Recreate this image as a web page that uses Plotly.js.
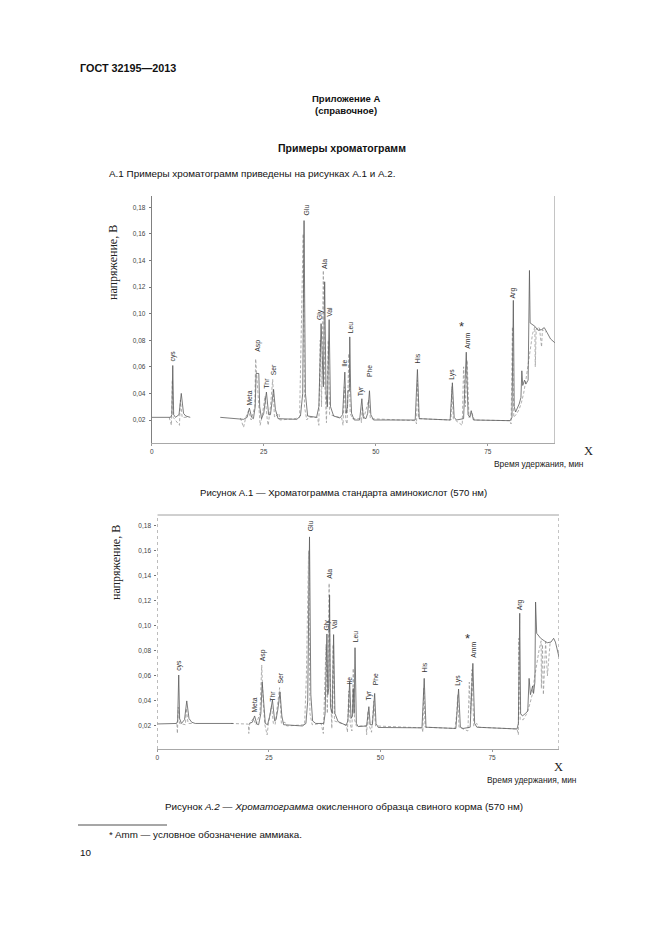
<!DOCTYPE html>
<html><head><meta charset="utf-8">
<script src="https://cdn.plot.ly/plotly-3.0.1.min.js"></script>
<style>html,body{margin:0;padding:0;background:#fff}#g{width:661px;height:935px}</style>
</head><body><div id="g"></div>
<script>
// ---------- DATA ----------
// Figure A.1 — main (solid) trace
const t1 = [0,4.2,4.5,4.7,4.9,5.3,6.1,6.6,7.1,7.6,8.6,null,15.3,20.5,21.3,21.8,22.3,22.7,23.1,23.3,23.9,24.1,24.5,25.0,25.6,26.1,26.5,26.8,27.2,27.6,28.2,32.4,33.2,33.7,34.0,34.3,34.8,36.8,37.3,37.8,38.1,38.3,38.6,38.9,39.2,39.6,39.9,40.6,42.0,42.6,43.1,43.4,43.7,43.8,44.1,44.2,44.4,44.6,45.2,46.4,46.9,47.2,47.8,48.2,48.6,48.9,49.5,58.8,59.3,59.7,66.6,67.1,67.5,68.0,69.6,70.2,70.6,71.0,71.3,71.8,80.0,80.4,80.7,80.9,81.2,82.0,82.4,82.6,82.8,83.2,83.5,84.0,84.3,84.45,85.5,86.2,87.0,87.6,88.2,89.0,90.0];
const v1 = [0.022,0.022,0.024,0.061,0.024,0.022,0.024,0.040,0.025,0.023,0.022,null,0.022,0.0205,0.022,0.029,0.022,0.021,0.030,0.055,0.055,0.030,0.021,0.025,0.041,0.024,0.024,0.032,0.043,0.028,0.021,0.0205,0.023,0.040,0.170,0.040,0.023,0.022,0.030,0.0925,0.050,0.045,0.124,0.040,0.030,0.0955,0.030,0.023,0.0215,0.024,0.056,0.025,0.030,0.042,0.042,0.0825,0.042,0.025,0.020,0.020,0.036,0.022,0.021,0.025,0.042,0.024,0.020,0.020,0.058,0.021,0.020,0.048,0.022,0.020,0.021,0.071,0.024,0.022,0.027,0.020,0.0195,0.022,0.110,0.030,0.026,0.032,0.037,0.057,0.046,0.050,0.047,0.050,0.1325,0.093,0.0905,0.0875,0.088,0.0895,0.086,0.081,0.078];
// Figure A.1 — second (dashed) trace
const t1b = [3.9,4.4,4.6,4.8,6.2,6.4,6.8,8.2,null,19.8,20.5,21.0,21.6,22.2,23.0,23.2,23.6,24.2,24.6,25.3,25.8,26.0,26.5,27.0,27.4,28.4,28.6,32.0,33.0,33.5,33.8,34.1,34.6,35.0,37.0,37.3,37.6,37.9,38.3,38.6,39.0,39.4,39.7,42.4,42.7,43.0,43.3,43.6,44.0,44.3,44.8,46.7,46.8,47.0,47.3,48.4,48.8,58.9,59.1,59.3,59.6,66.8,67.0,67.3,69.3,69.6,70.0,70.4,70.8,71.5,72.0,79.9,80.2,80.5,80.8,81.5,82.0,82.5,83.0,83.5,84.0,84.5,85.0,85.5,85.6,85.8,86.5,87.0,87.2,88.0];
const v1b = [0.022,0.016,0.050,0.022,0.016,0.035,0.022,0.022,null,0.0215,0.0145,0.022,0.027,0.020,0.030,0.066,0.045,0.016,0.022,0.038,0.020,0.016,0.030,0.0505,0.022,0.025,0.020,0.021,0.022,0.100,0.160,0.030,0.020,0.022,0.022,0.016,0.080,0.030,0.1325,0.050,0.018,0.080,0.024,0.0215,0.016,0.045,0.020,0.017,0.070,0.025,0.021,0.021,0.018,0.030,0.021,0.035,0.021,0.0195,0.017,0.050,0.021,0.020,0.045,0.021,0.016,0.060,0.030,0.065,0.022,0.025,0.020,0.0195,0.017,0.090,0.022,0.025,0.028,0.033,0.040,0.050,0.062,0.075,0.085,0.090,0.060,0.088,0.090,0.075,0.088,0.086];

// Figure A.2 — main (solid) trace
const t2 = [0,4.3,4.55,4.8,5.0,5.4,6.1,6.6,7.1,7.7,8.5,17.0,null,20.6,21.3,21.8,22.3,22.7,23.2,23.5,23.8,24.2,24.7,25.2,25.8,26.3,26.6,27.0,27.5,27.9,28.3,32.5,33.3,33.7,34.1,34.4,34.8,35.5,37.3,37.6,38.0,38.2,38.4,38.6,38.8,39.2,39.5,39.8,40.5,42.3,42.7,43.1,43.4,43.7,43.9,44.1,44.3,44.6,45.0,46.9,47.4,47.7,48.2,48.7,49.0,49.5,59.3,59.8,60.2,66.9,67.5,67.9,68.5,70.1,70.7,71.1,71.6,80.6,80.9,81.2,81.4,81.8,82.5,83.0,83.3,83.6,84.1,84.3,84.6,84.75,85.0,85.9,86.7,87.4,88.2,88.8,89.2,90.0];
const v2 = [0.0216,0.022,0.024,0.0607,0.026,0.022,0.025,0.040,0.026,0.023,0.022,0.022,null,0.022,0.023,0.028,0.0215,0.021,0.030,0.055,0.040,0.022,0.021,0.028,0.0407,0.024,0.025,0.033,0.047,0.028,0.021,0.020,0.022,0.040,0.171,0.045,0.024,0.022,0.022,0.030,0.0935,0.045,0.050,0.1245,0.035,0.030,0.093,0.030,0.0235,0.0205,0.024,0.0554,0.026,0.028,0.050,0.030,0.0825,0.022,0.0195,0.020,0.0354,0.021,0.021,0.046,0.022,0.0188,0.0185,0.058,0.019,0.018,0.0495,0.019,0.018,0.019,0.070,0.022,0.019,0.0176,0.022,0.1100,0.030,0.028,0.030,0.032,0.058,0.045,0.052,0.046,0.055,0.119,0.094,0.090,0.088,0.0865,0.087,0.090,0.087,0.075];
// Figure A.2 — second (dashed) trace
const t2b = [4.4,4.5,4.7,5.0,6.3,6.5,6.9,8.0,null,16.5,20.4,20.5,20.7,21.5,22.1,23.0,23.4,23.7,24.1,24.6,24.9,25.6,26.0,26.4,27.0,27.4,27.8,28.6,29.0,33.0,33.4,33.9,34.2,34.7,36.7,37.2,37.5,37.8,38.1,38.5,38.7,39.1,39.4,39.7,42.4,42.6,42.9,43.2,43.6,43.9,44.2,44.6,46.8,46.9,47.2,47.5,48.0,48.5,48.9,59.3,59.5,59.7,60.0,66.7,67.1,67.3,67.6,69.6,69.9,70.2,70.5,70.9,71.6,72.0,80.6,80.9,81.0,81.3,82.0,82.8,83.5,84.0,84.5,85.0,85.5,86.0,86.05,86.3,86.5,87.0,87.4,88.0];
const v2b = [0.0215,0.014,0.035,0.022,0.021,0.034,0.022,0.022,null,0.022,0.0215,0.014,0.022,0.026,0.021,0.030,0.0687,0.040,0.021,0.0128,0.022,0.036,0.022,0.021,0.040,0.0506,0.022,0.023,0.020,0.021,0.060,0.160,0.030,0.021,0.022,0.014,0.050,0.085,0.030,0.134,0.060,0.018,0.085,0.024,0.0205,0.015,0.048,0.022,0.016,0.066,0.025,0.020,0.020,0.013,0.032,0.020,0.015,0.040,0.020,0.0185,0.015,0.050,0.019,0.018,0.030,0.045,0.019,0.016,0.055,0.030,0.065,0.020,0.022,0.019,0.0176,0.013,0.090,0.025,0.025,0.030,0.038,0.045,0.058,0.070,0.080,0.088,0.050,0.085,0.045,0.087,0.060,0.086];

// Peak labels
const peakNames = ['cys','Meta','Asp','Thr','Ser','Glu','Gly','Ala','Val','Ile','Leu','Tyr','Phe','His','Lys','Amm','Arg'];
const peakT1 = [4.7,21.8,23.7,25.7,27.2,34.5,37.7,38.7,39.6,43.1,44.25,46.9,48.6,59.3,67.1,70.4,80.6];
const peakV1 = [0.0635,0.030,0.0705,0.043,0.053,0.173,0.0945,0.133,0.097,0.0595,0.0845,0.037,0.052,0.062,0.0495,0.073,0.111];
const peakT2 = [4.8,21.8,23.65,25.75,27.5,34.2,38.1,38.6,39.6,43.1,44.3,47.4,48.9,59.8,67.5,70.9,81.2];
const peakV2 = [0.0634,0.030,0.0708,0.0384,0.0527,0.175,0.0953,0.1365,0.0966,0.0527,0.086,0.0394,0.0514,0.062,0.0514,0.0735,0.1118];
// Asterisk on Amm
const starT = [69.1, 69.4];
const starV = [0.090, 0.090];

const yTicks = [0.02,0.04,0.06,0.08,0.10,0.12,0.14,0.16,0.18];
const xTicks = [0,25,50,75];

// ---------- LAYOUT ----------
const W = 661, H = 935;
const px = x => x / W, py = y => 1 - y / H;

const solid = {color:'#5c5c5c', width:0.8};
const dashed = {color:'#9a9a9a', width:0.8, dash:'3px,2px'};

const traces = [
  {x:t1b, y:v1b, xaxis:'x', yaxis:'y', mode:'lines', line:dashed, connectgaps:false, hoverinfo:'skip'},
  {x:t1, y:v1, xaxis:'x', yaxis:'y', mode:'lines', line:solid, connectgaps:false, hoverinfo:'skip'},
  {x:t2b, y:v2b, xaxis:'x2', yaxis:'y2', mode:'lines', line:dashed, connectgaps:false, hoverinfo:'skip'},
  {x:t2, y:v2, xaxis:'x2', yaxis:'y2', mode:'lines', line:solid, connectgaps:false, hoverinfo:'skip'}
];

const tickFont = {family:'Liberation Sans, Arial, sans-serif', size:6.5, color:'#444'};
function xax(dom, anchor){
  return {domain:dom, anchor:anchor, range:[0,90], tickvals:xTicks, ticktext:xTicks.map(String),
    showgrid:false, zeroline:false, showline:true, linecolor:'#a8a8a8', linewidth:1,
    ticks:'outside', ticklen:2, tickcolor:'#999', tickfont:tickFont, ticklabelstandoff:0, fixedrange:true};
}
function yax(dom, anchor, rng, line){
  return {domain:dom, anchor:anchor, range:rng, tickvals:yTicks, tickformat:'.2f',
    showgrid:false, zeroline:false, showline:line, linecolor:'#808080', linewidth:1,
    ticks:'outside', ticklen:2, tickcolor:'#777', tickfont:tickFont, ticklabelstandoff:2, fixedrange:true};
}

const sans = 'Liberation Sans, Arial, sans-serif';
const serif = 'Liberation Serif, Times New Roman, serif';
function txt(x, y, text, size, opts){
  return Object.assign({xref:'paper', yref:'paper', x:px(x), y:py(y), text:text, showarrow:false,
    xanchor:'left', yanchor:'middle', font:{family:sans, size:size, color:'#111'}}, opts||{});
}

const ann = [
  txt(78, 68, '<b>ГОСТ 32195—2013</b>', 10.8),
  txt(346, 98, '<b>Приложение А</b>', 9.5, {xanchor:'center'}),
  txt(346, 111, '<b>(справочное)</b>', 9.5, {xanchor:'center'}),
  txt(342, 148, '<b>Примеры хроматограмм</b>', 10.5, {xanchor:'center'}),
  txt(107, 174, 'А.1 Примеры хроматограмм приведены на рисунках А.1 и А.2.', 9.9),
  txt(343, 492, 'Рисунок А.1 — Хроматограмма стандарта аминокислот (570 нм)', 9.6, {xanchor:'center'}),
  txt(344, 806, 'Рисунок <i>А.2 — Хроматограмма</i> окисленного образца свиного корма (570 нм)', 9.9, {xanchor:'center'}),
  txt(107, 834, '* Amm — условное обозначение аммиака.', 9.8),
  txt(78, 852, '10', 9.9),
  // axis titles fig 1
  txt(113, 263, 'напряжение, В', 12, {xanchor:'center', textangle:-90, font:{family:serif, size:12, color:'#222'}}),
  txt(588, 451, 'X', 12, {xanchor:'center', font:{family:serif, size:12.5, color:'#222'}}),
  txt(539, 464, 'Время удержания, мин', 8.4, {xanchor:'center', font:{family:sans, size:8.4, color:'#222'}}),
  // axis titles fig 2
  txt(116, 563, 'напряжение, В', 12, {xanchor:'center', textangle:-90, font:{family:serif, size:12, color:'#222'}}),
  txt(558, 767, 'X', 12, {xanchor:'center', font:{family:serif, size:12.5, color:'#222'}}),
  txt(532, 780, 'Время удержания, мин', 8.4, {xanchor:'center', font:{family:sans, size:8.4, color:'#222'}})
];

const lblFont = {family:sans, size:6.8, color:'#333'};
peakNames.forEach((n,i)=>{
  ann.push({xref:'x', yref:'y', x:peakT1[i], y:peakV1[i], text:n, textangle:-90, showarrow:false,
    xanchor:'center', yanchor:'bottom', font:lblFont, borderpad:0});
  ann.push({xref:'x2', yref:'y2', x:peakT2[i], y:peakV2[i], text:n, textangle:-90, showarrow:false,
    xanchor:'center', yanchor:'bottom', font:lblFont, borderpad:0});
});
ann.push({xref:'x', yref:'y', x:starT[0], y:starV[0], text:'*', showarrow:false, xanchor:'center', yanchor:'middle',
  font:{family:sans, size:13, color:'#333'}});
ann.push({xref:'x2', yref:'y2', x:starT[1], y:starV[1], text:'*', showarrow:false, xanchor:'center', yanchor:'middle',
  font:{family:sans, size:13, color:'#333'}});

const shapes = [
  // fig 1 right border
  {type:'line', xref:'x', yref:'y domain', x0:90, x1:90, y0:0, y1:1, line:{color:'#888', width:1}},
  // fig 2 frame: top solid, left & right dotted
  {type:'line', xref:'x2', yref:'y2 domain', x0:0, x1:90, y0:1, y1:1, line:{color:'#a0a0a0', width:1}},
  {type:'line', xref:'x2', yref:'y2 domain', x0:0, x1:0, y0:0, y1:1, line:{color:'#888', width:1, dash:'dot'}},
  {type:'line', xref:'x2', yref:'y2 domain', x0:90, x1:90, y0:0, y1:1, line:{color:'#888', width:1, dash:'dot'}},
  // footnote rule
  {type:'line', xref:'paper', yref:'paper', x0:px(78), x1:px(167), y0:py(825), y1:py(825), line:{color:'#222', width:0.8}}
];

const layout = {
  width:W, height:H, margin:{l:0,r:0,t:0,b:0}, paper_bgcolor:'#fff', plot_bgcolor:'rgba(0,0,0,0)',
  showlegend:false, separators:', ',
  xaxis: xax([151.7/W, 555/W], 'y'),
  yaxis: yax([py(443), py(196)], 'x', [0.0027, 0.1885], true),
  xaxis2: xax([157.3/W, 559/W], 'y2'),
  yaxis2: yax([py(749), py(515)], 'x2', [0.0016, 0.1885], false),
  annotations: ann, shapes: shapes
};

Plotly.newPlot('g', traces, layout, {staticPlot:true, displayModeBar:false});
</script></body></html>
